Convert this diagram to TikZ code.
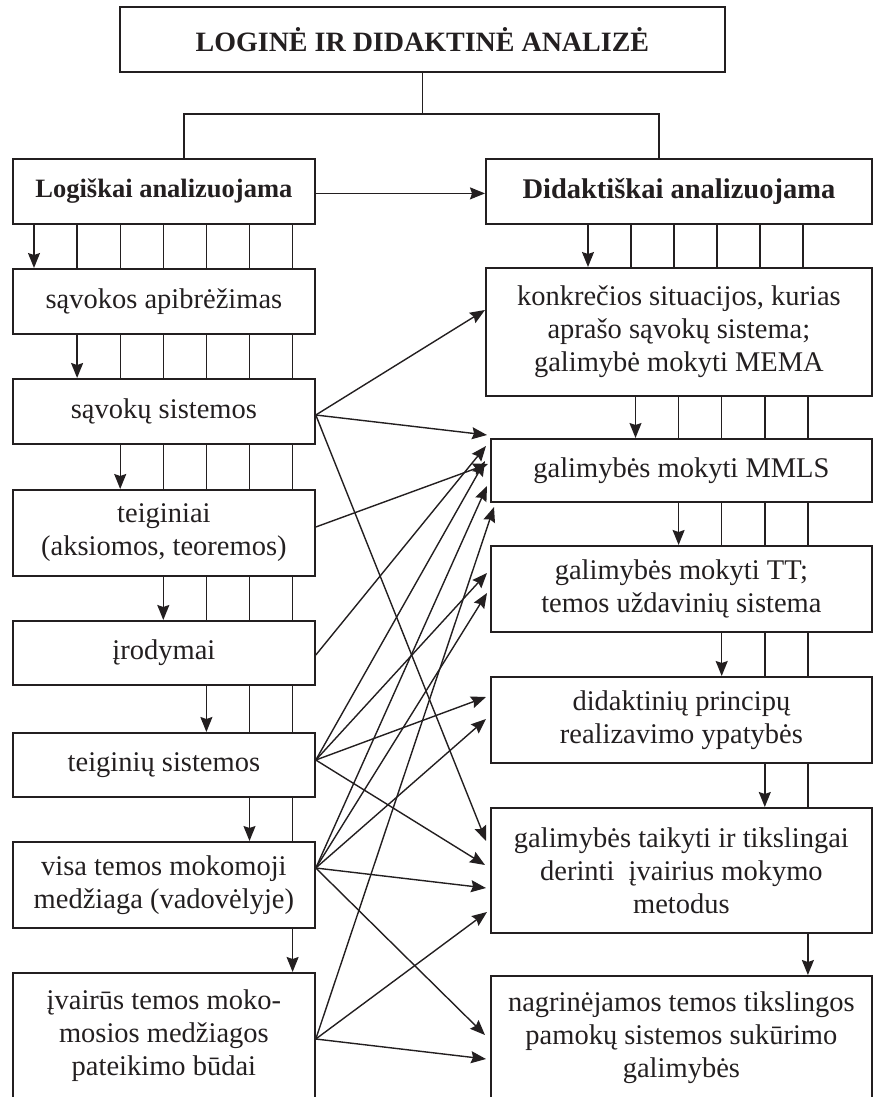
\documentclass[tikz,border=0pt]{standalone}
\usepackage{fontspec}
\setmainfont{Liberation Serif}
\usetikzlibrary{arrows.meta,calc}
\definecolor{ink}{HTML}{231F20}
\begin{document}
\begin{tikzpicture}[x=1pt,y=-1pt,
  box/.style={draw=ink, line width=1.8pt, anchor=north west, inner sep=0pt,
    align=center, text=ink, font=\fontsize{28.5}{33}\selectfont},
  lbox/.style={box, minimum width=302pt},
  rbox/.style={box, minimum width=381pt},
  conn/.style={draw=ink, line width=1.4pt},
  arr/.style={conn, -{Stealth[length=15pt,width=12pt,inset=2pt]}},
]
\useasboundingbox (0,0) rectangle (873,1097);
\clip (0,0) rectangle (873,1097);

% title and the two branches
\node[box, minimum width=605pt, minimum height=65pt] (title) at (119,6)
  {\fontsize{28}{33}\selectfont\bfseries LOGINĖ IR DIDAKTINĖ ANALIZĖ};
\node[lbox, minimum height=65pt] (lg) at (12,158)
  {\fontsize{26.5}{33}\selectfont\bfseries Logiškai analizuojama};
\node[box, minimum width=386pt, minimum height=65pt] (dg) at (485,158)
  {\fontsize{28.5}{33}\selectfont\bfseries Didaktiškai analizuojama};

% left column
\node[lbox, minimum height=65pt] (sav) at (12,268) {sąvokos apibrėžimas};
\node[lbox, minimum height=65pt] (sys) at (12,378) {sąvokų sistemos};
\node[lbox, minimum height=86pt] (teig) at (12,489) {teiginiai\\(aksiomos, teoremos)};
\node[lbox, minimum height=64pt] (irod) at (12,620) {įrodymai};
\node[lbox, minimum height=64pt] (tsys) at (12,732) {teiginių sistemos};
\node[lbox, minimum height=86pt] (visa) at (12,841) {visa temos mokomoji\\medžiaga (vadovėlyje)};
\node[lbox, minimum height=126pt] (ivair) at (12,972) {įvairūs temos moko-\\mosios medžiagos\\pateikimo būdai};

% right column
\node[box, minimum width=386pt, minimum height=128pt] (konk) at (485,267)
  {konkrečios situacijos, kurias\\aprašo sąvokų sistema;\\galimybė mokyti MEMA};
\node[rbox, minimum height=63pt] (mmls) at (490,438) {galimybės mokyti MMLS};
\node[rbox, minimum height=86pt] (tt) at (490,545) {galimybės mokyti TT;\\temos uždavinių sistema};
\node[rbox, minimum height=86pt] (princ) at (490,676) {didaktinių principų\\realizavimo ypatybės};
\node[rbox, minimum height=125pt] (metod) at (490,807)
  {galimybės taikyti ir tikslingai\\derinti\ \ įvairius mokymo\\metodus};
\node[rbox, minimum height=124pt] (pam) at (490,975)
  {nagrinėjamos temos tikslingos\\pamokų sistemos sukūrimo\\galimybės};

% tree under the title
\draw[conn] (title.south) -- (title.south |- 0,114);
\draw[conn] (lg.north -| 184,0) -- (184,114) -- (659,114) -- (dg.north -| 659,0);
\draw[arr] ([yshift=-2pt]lg.east) -- ([yshift=-2pt]dg.west);

% left ladder: one arrow per step, plain lines to its right
\foreach \u/\l/\k in {lg/sav/0, sav/sys/1, sys/teig/2, teig/irod/3,
                      irod/tsys/4, tsys/visa/5, visa/ivair/6} {
  \pgfmathsetmacro\xa{34+43.1*\k}
  \draw[arr] (\u.south -| \xa,0) -- (\l.north -| \xa,0);
  \foreach \j in {0,...,6} {
    \ifnum\j>\k
      \pgfmathsetmacro\xb{34+43.1*\j}
      \draw[conn] (\u.south -| \xb,0) -- (\l.north -| \xb,0);
    \fi
  }
}

% right ladder, first step
\draw[arr] (dg.south -| 588,0) -- (konk.north -| 588,0);
\foreach \x in {631,674,717,760,803}
  \draw[conn] (dg.south -| \x,0) -- (konk.north -| \x,0);

% right ladder, further steps
\foreach \u/\l/\k in {konk/mmls/0, mmls/tt/1, tt/princ/2, princ/metod/3, metod/pam/4} {
  \pgfmathsetmacro\xa{635.5+43.1*\k}
  \draw[arr] (\u.south -| \xa,0) -- (\l.north -| \xa,0);
  \foreach \j in {0,...,4} {
    \ifnum\j>\k
      \pgfmathsetmacro\xb{635.5+43.1*\j}
      \draw[conn] (\u.south -| \xb,0) -- (\l.north -| \xb,0);
    \fi
  }
}

% origins of the cross links
\coordinate (oSys)   at ($(sys.north east)+(0,37)$);
\coordinate (oTeig)  at ($(teig.north east)+(0,38)$);
\coordinate (oIrod)  at ($(irod.north east)+(0,35)$);
\coordinate (oTsys)  at ($(tsys.north east)+(0,28)$);
\coordinate (oVisa)  at ($(visa.north east)+(0,27)$);
\coordinate (oIvair) at ($(ivair.north east)+(0,67)$);

% cross links
\draw[arr] (oSys) -- ($(konk.north west)+(0,43)$);
\draw[arr] (oSys) -- ($(mmls.north west)+(-3,-3)$);
\draw[arr] (oSys) -- ($(metod.north west)+(-4,34)$);

\draw[arr] (oTeig) -- ($(mmls.north west)+(-2,26)$);

\draw[arr] (oIrod) -- ($(mmls.north west)+(-4,8)$);

\draw[arr] (oTsys) -- ($(mmls.north west)+(-5,23)$);
\draw[arr] (oTsys) -- ($(tt.north west)+(-3,28)$);
\draw[arr] (oTsys) -- ($(princ.north west)+(-4,21)$);
\draw[arr] (oTsys) -- ($(metod.north west)+(-5,58)$);

\draw[arr] (oVisa) -- ($(mmls.north west)+(-3,48)$);
\draw[arr] (oVisa) -- ($(tt.north west)+(-3,48)$);
\draw[arr] (oVisa) -- ($(princ.north west)+(-4,43)$);
\draw[arr] (oVisa) -- ($(metod.north west)+(-4,81)$);
\draw[arr] (oVisa) -- ($(pam.north west)+(-5,60)$);

\draw[arr] (oIvair) -- ($(mmls.north west)+(4,69)$);
\draw[arr] (oIvair) -- ($(metod.north west)+(-3,105)$);
\draw[arr] (oIvair) -- ($(pam.north west)+(-4,84)$);
\end{tikzpicture}
\end{document}
